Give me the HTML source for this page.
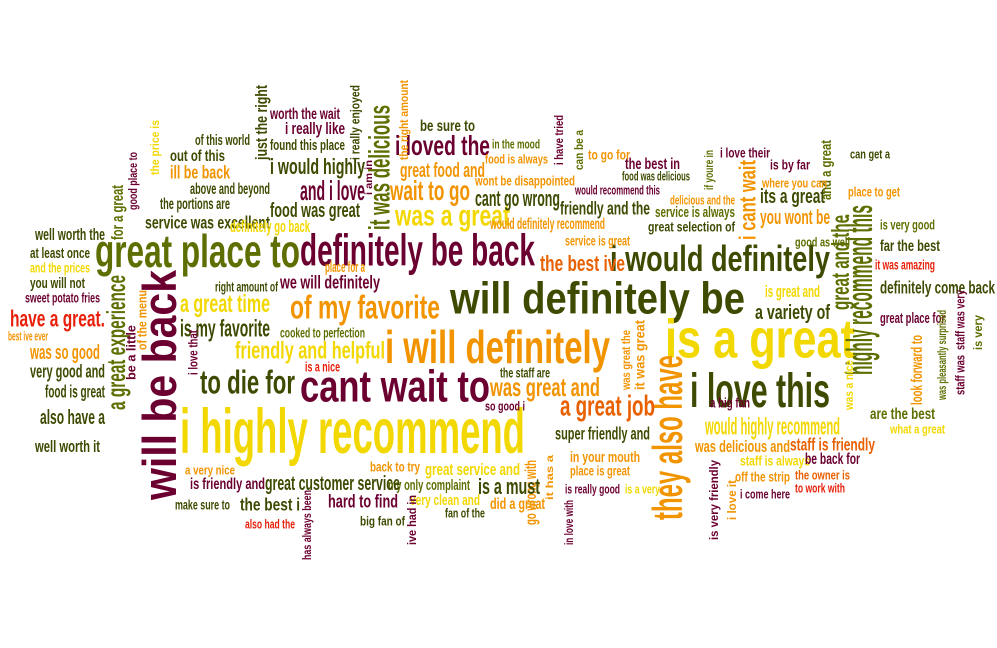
<!DOCTYPE html>
<html><head><meta charset="utf-8">
<style>
html,body{margin:0;padding:0;background:#fff;}
svg{display:block;}
text{font-family:"Liberation Sans Narrow","Liberation Sans",sans-serif;font-weight:bold;}
</style></head>
<body>
<svg id="cloud" width="997" height="648" viewBox="0 0 997 648" xmlns="http://www.w3.org/2000/svg"></svg>
<script>
// words: text, left x, top y, width(or vertical thickness), height(or vertical length), color key, orientation
const words = [
["i highly recommend",180,405,345,60,"Y","h"],
["will be back",140,270,45,230,"M","v"],
["great place to",95,232,205,44,"O","h"],
["definitely be back",300,232,235,42,"M","h"],
["will definitely be",450,280,295,42,"D","h"],
["i will definitely",385,328,225,44,"G","h"],
["is a great",665,316,190,52,"Y","h"],
["i love this",690,370,140,46,"D","h"],
["cant wait to",300,368,190,42,"M","h"],
["they also have",650,355,40,165,"G","v"],
["to die for",200,368,95,32,"D","h"],
["of my favorite",290,293,150,32,"G","h"],
["i would definitely",610,244,220,34,"D","h"],
["highly recommend this",845,205,34,170,"O","v"],
["great and the",830,215,24,95,"O","v"],
["it was delicious",367,105,28,125,"O","v"],
["i cant wait",738,160,22,80,"G","v"],
["a great experience",105,275,25,135,"O","v"],
["was a great",395,203,115,28,"Y","h"],
["a great job",560,394,95,27,"N","h"],
["was great and",490,376,110,25,"G","h"],
["i loved the",395,134,95,26,"M","h"],
["and i love",300,179,65,26,"M","h"],
["i would highly",270,157,95,21,"D","h"],
["food was great",270,202,90,19,"D","h"],
["wait to go",390,179,80,26,"G","h"],
["great food and",400,162,85,19,"G","h"],
["cant go wrong",475,189,85,21,"D","h"],
["the best ive",540,254,85,21,"N","h"],
["its a great",760,188,65,19,"D","h"],
["you wont be",760,209,70,19,"G","h"],
["a great time",180,293,90,24,"Y","h"],
["is my favorite",180,318,90,23,"D","h"],
["friendly and helpful",235,340,150,23,"Y","h"],
["have a great.",10,309,95,22,"R","h"],
["was so good",30,344,70,19,"G","h"],
["very good and",30,363,75,18,"D","h"],
["food is great",45,384,60,17,"D","h"],
["also have a",40,409,65,19,"D","h"],
["well worth it",35,439,65,16,"D","h"],
["well worth the",35,227,70,16,"D","h"],
["at least once",30,247,60,14,"D","h"],
["and the prices",30,262,60,13,"Y","h"],
["you will not",30,277,55,14,"D","h"],
["sweet potato fries",25,292,75,13,"M","h"],
["best ive ever",8,331,40,12,"G","h"],
["for a great",110,185,16,55,"O","v"],
["be a little",126,325,12,55,"M","v"],
["of the menu",137,290,12,60,"G","v"],
["the portions are",160,197,70,15,"D","h"],
["service was excellent",145,215,125,17,"D","h"],
["above and beyond",190,182,80,15,"D","h"],
["ill be back",170,164,60,18,"G","h"],
["out of this",170,149,55,15,"D","h"],
["of this world",195,134,55,14,"D","h"],
["the price is",150,120,11,55,"Y","v"],
["good place to",128,152,11,58,"M","v"],
["just the right",254,85,16,75,"D","v"],
["worth the wait",270,107,70,15,"M","h"],
["i really like",285,121,60,16,"M","h"],
["found this place",270,139,75,14,"D","h"],
["i really enjoyed",350,85,12,75,"D","v"],
["i am in",364,160,10,35,"M","v"],
["definitely go back",230,219,80,16,"Y","h"],
["we will definitely",280,274,100,18,"M","h"],
["right amount of",215,281,63,13,"D","h"],
["place for a",325,261,40,14,"G","h"],
["cooked to perfection",280,327,85,13,"O","h"],
["is a nice",305,361,35,13,"R","h"],
["i love that",188,330,12,45,"M","v"],
["the right amount",399,80,11,80,"G","v"],
["be sure to",420,119,55,15,"D","h"],
["in the mood",492,139,48,12,"O","h"],
["food is always",485,154,63,12,"G","h"],
["i have tried",554,115,11,50,"M","v"],
["can be a",574,130,11,40,"O","v"],
["to go for",588,149,42,13,"G","h"],
["the best in",625,157,55,15,"M","h"],
["food was delicious",622,171,68,12,"D","h"],
["if youre in",704,150,11,40,"O","v"],
["i love their",720,147,50,13,"M","h"],
["is by far",770,159,40,13,"M","h"],
["and a great",820,140,14,60,"O","v"],
["can get a",850,149,40,12,"D","h"],
["place to get",848,186,52,13,"G","h"],
["where you can",762,178,65,12,"G","h"],
["wont be disappointed",475,175,100,13,"G","h"],
["would recommend this",575,185,85,12,"M","h"],
["friendly and the",560,200,90,18,"D","h"],
["delicious and the",670,195,65,12,"G","h"],
["service is always",655,206,80,14,"O","h"],
["great selection of",648,221,87,13,"D","h"],
["would definitely recommend",490,217,115,15,"G","h"],
["service is great",565,235,65,13,"G","h"],
["is very good",880,219,55,13,"O","h"],
["good as well",795,237,55,12,"O","h"],
["far the best",880,239,60,15,"D","h"],
["it was amazing",875,259,60,13,"R","h"],
["definitely come back",880,280,115,17,"D","h"],
["is great and",765,284,55,16,"Y","h"],
["a variety of",755,304,75,19,"D","h"],
["great place for",880,312,65,14,"M","h"],
["look forward to",910,335,15,70,"G","v"],
["was pleasantly surprised",937,310,11,90,"O","v"],
["staff was very",955,290,12,60,"M","v"],
["is very",973,315,11,35,"O","v"],
["staff was",955,355,12,40,"M","v"],
["was a nice",844,360,11,50,"Y","v"],
["would highly recommend",705,416,135,23,"Y","h"],
["are the best",870,407,65,15,"O","h"],
["what a great",890,424,55,12,"Y","h"],
["was delicious and",695,439,95,16,"G","h"],
["staff is friendly",790,437,85,17,"N","h"],
["staff is always",740,455,70,13,"Y","h"],
["be back for",805,452,55,15,"M","h"],
["the owner is",795,470,55,12,"N","h"],
["to work with",795,483,50,12,"R","h"],
["i come here",740,489,50,12,"M","h"],
["off the strip",735,471,55,13,"G","h"],
["i love it",727,480,11,40,"G","v"],
["is very friendly",709,460,11,80,"M","v"],
["a big fan",710,397,40,13,"M","h"],
["was great the",621,330,11,60,"G","v"],
["it was great",634,320,13,70,"G","v"],
["the staff are",500,367,50,13,"D","h"],
["so good i",485,401,40,12,"M","h"],
["super friendly and",555,426,95,17,"D","h"],
["go wrong with",524,460,15,65,"G","v"],
["it has a",545,455,10,45,"G","v"],
["in your mouth",570,451,70,14,"G","h"],
["place is great",570,465,60,13,"G","h"],
["is really good",565,484,55,12,"M","h"],
["is a very",625,484,35,12,"Y","h"],
["in love with",564,500,11,45,"M","v"],
["great service and",425,462,95,16,"Y","h"],
["is a must",478,477,62,21,"D","h"],
["did a great",490,497,55,15,"G","h"],
["back to try",370,461,50,13,"G","h"],
["my only complaint",388,479,82,14,"O","h"],
["very clean and",410,494,70,14,"Y","h"],
["fan of the",445,508,40,12,"D","h"],
["ive had in",407,495,11,50,"M","v"],
["big fan of",360,516,45,12,"D","h"],
["hard to find",328,493,70,18,"M","h"],
["great customer service",265,475,135,19,"D","h"],
["has always been",302,490,11,70,"M","v"],
["the best i",240,497,60,17,"D","h"],
["also had the",245,519,50,12,"R","h"],
["make sure to",175,499,55,13,"D","h"],
["is friendly and",190,477,75,15,"M","h"],
["a very nice",185,465,50,12,"G","h"]
];
const palette = {M:"#6b0030",O:"#5f6e00",D:"#3e4a00",G:"#f29400",Y:"#f2d800",R:"#e8200a",N:"#e86000"};
const svg = document.getElementById('cloud');
const NS = "http://www.w3.org/2000/svg";
words.forEach(w => {
  const [t,x,y,a,b,c,o] = w;
  const el = document.createElementNS(NS,'text');
  
  
  el.setAttribute('fill', palette[c]);
  el.setAttribute('lengthAdjust','spacingAndGlyphs');
  if (o === 'h') {
    el.setAttribute('x', x);
    el.setAttribute('y', y + b*0.8);
    el.setAttribute('font-size', b*1.05);
    el.setAttribute('textLength', a);
  } else {
    el.setAttribute('transform', 'translate(' + (x + a*0.8) + ',' + (y + b) + ') rotate(-90)');
    el.setAttribute('x', 0);
    el.setAttribute('y', 0);
    el.setAttribute('font-size', a*1.05);
    el.setAttribute('textLength', b);
  }
  el.textContent = t;
  svg.appendChild(el);
});
</script>
</body></html>
